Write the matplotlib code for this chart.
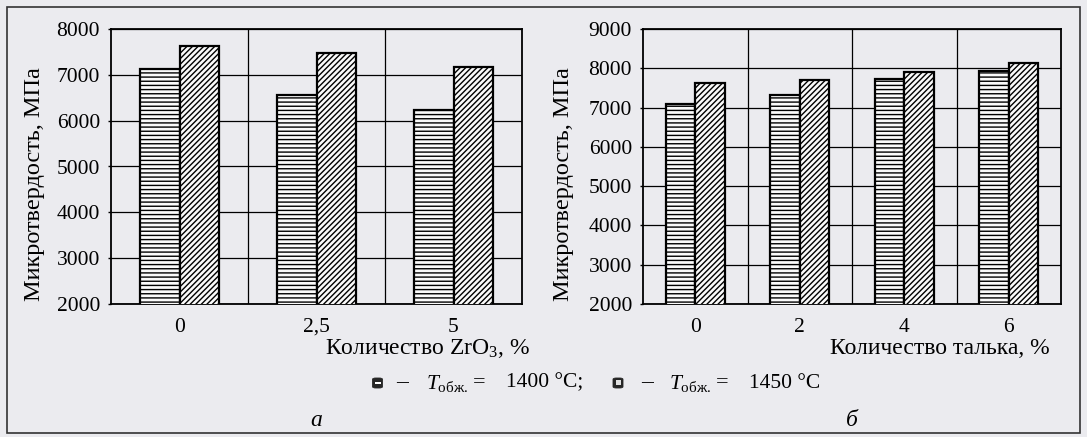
import matplotlib
matplotlib.use("Agg")
import matplotlib.pyplot as plt
from matplotlib.patches import FancyBboxPatch, Rectangle
import numpy as np

plt.rcParams['font.family'] = ['Liberation Serif', 'DejaVu Serif']
plt.rcParams['mathtext.fontset'] = 'custom'
plt.rcParams['mathtext.rm'] = 'Liberation Serif'
plt.rcParams['mathtext.it'] = 'Liberation Serif:italic'
plt.rcParams['hatch.linewidth'] = 1.0

# ---- data ----
zro2_labels = ['0', '2,5', '5']
zro2_1400 = [7120, 6560, 6240]
zro2_1450 = [7630, 7480, 7170]

talc_labels = ['0', '2', '4', '6']
talc_1400 = [7090, 7310, 7720, 7940]
talc_1450 = [7630, 7690, 7910, 8140]

ylabel = 'Микротвердость, МПа'
xlabel_a = 'Количество ZrO$_3$, %'
xlabel_b = 'Количество талька, %'
legend_temps = ['1400 °C;', '1450 °C']

W, H = 1087, 437
BG = '#ebebef'
fig = plt.figure(figsize=(W / 100, H / 100), dpi=100, facecolor=BG)

def px(x0, y0, x1, y1):
    return [x0 / W, 1 - y1 / H, (x1 - x0) / W, (y1 - y0) / H]

def panel(rect, labels, v1, v2, ymax, width):
    ax = fig.add_axes(rect)
    ax.set_facecolor(BG)
    x = np.arange(len(labels))
    ax.bar(x - width / 2, v1, width, facecolor='#fafafa', edgecolor='black',
           hatch='----', linewidth=1.6, zorder=3)
    ax.bar(x + width / 2, v2, width, facecolor='#fafafa', edgecolor='black',
           hatch='//////', linewidth=1.6, zorder=3)
    ax.set_xlim(-0.5, len(labels) - 0.5)
    ax.set_ylim(2000, ymax)
    ax.set_yticks(np.arange(2000, ymax + 1, 1000))
    ax.set_xticks(x)
    ax.set_xticklabels(labels)
    ax.set_xticks(np.arange(0.5, len(labels) - 0.5, 1), minor=True)
    ax.grid(axis='y', which='major', color='black', linewidth=0.9, zorder=1)
    ax.grid(axis='x', which='minor', color='black', linewidth=0.9, zorder=1)
    ax.tick_params(axis='y', labelsize=15.5, length=2, width=1, pad=6)
    ax.tick_params(axis='x', which='both', labelsize=15.5, length=0, pad=10)
    for s in ax.spines.values():
        s.set_linewidth(1.3)
    ax.set_axisbelow(True)
    return ax

ax1 = panel(px(111, 29, 522, 304), zro2_labels, zro2_1400, zro2_1450, 8000, 0.29)
ax2 = panel(px(643, 29, 1061, 304), talc_labels, talc_1400, talc_1450, 9000, 0.28)

fig.text(35 / W, 1 - 184 / H, ylabel, rotation=90, ha='center', va='center', fontsize=17.5)
fig.text(563 / W, 1 - 184 / H, ylabel, rotation=90, ha='center', va='center', fontsize=17.5)

fig.text(530 / W, 1 - 348 / H, xlabel_a, ha='right', va='center', fontsize=17)
fig.text(1050 / W, 1 - 348 / H, xlabel_b, ha='right', va='center', fontsize=17)

fig.text(316 / W, 1 - 420 / H, 'а', ha='center', va='center', fontsize=17, style='italic')
fig.text(852 / W, 1 - 420 / H, 'б', ha='center', va='center', fontsize=17, style='italic')

# legend line
ly = 1 - 383 / H

def icon(xc, kind):
    s = 10
    x0, y0 = (xc - s / 2) / W, ly - (s / 2) / H
    fig.patches.append(FancyBboxPatch((x0, y0), s / W, s / H,
                                      boxstyle='round,pad=0,rounding_size=0.003',
                                      transform=fig.transFigure, facecolor='#262626',
                                      edgecolor='#262626', linewidth=0.6))
    if kind == 0:
        fig.patches.append(Rectangle(((xc - 3) / W, ly - 1 / H), 6 / W, 2 / H,
                                     transform=fig.transFigure, facecolor='white',
                                     edgecolor='none'))
    else:
        fig.patches.append(Rectangle(((xc - 2.5) / W, ly - 2 / H), 5 / W, 5 / H,
                                     transform=fig.transFigure, facecolor='#e0e0e0',
                                     edgecolor='none'))

def legend_item(x_icon, x_dash, x_t, x_eq, x_val, kind, temp):
    icon(x_icon, kind)
    fig.text(x_dash / W, ly, '–', ha='left', va='center', fontsize=17)
    fig.text(x_t / W, ly, r'$T_{\mathrm{обж.}}$', ha='left', va='center', fontsize=15.5)
    fig.text(x_eq / W, ly, '=', ha='left', va='center', fontsize=16)
    fig.text(x_val / W, ly, temp, ha='left', va='center', fontsize=15.5)

legend_item(377.5, 396, 426, 473, 506, 0, legend_temps[0])
legend_item(618, 641, 669, 716, 749, 1, legend_temps[1])

# outer frame
fig.patches.append(Rectangle((7 / W, 1 - 433 / H), (1080 - 7) / W, (433 - 7) / H,
                             transform=fig.transFigure, fill=False,
                             edgecolor='#333333', linewidth=1.2))

fig.savefig('out.png', dpi=100, facecolor=BG)
